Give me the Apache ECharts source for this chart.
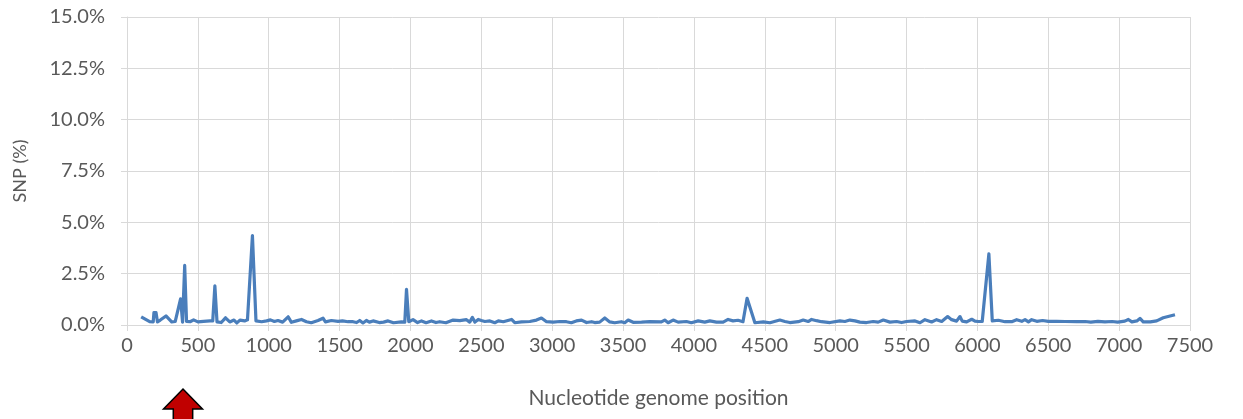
<!DOCTYPE html>
<html>
<head>
<meta charset="utf-8">
<title>SNP frequency along the genome</title>
<script src="https://cdn.jsdelivr.net/npm/echarts@6/dist/echarts.min.js"></script>
<style>
  html, body { margin: 0; padding: 0; background: #ffffff; }
  #chart { width: 1243px; height: 419px; }
</style>
</head>
<body>
<div id="chart"></div>
<script>
// Nucleotide positions along the genome
const positions = [
  100, 160, 185, 190, 205, 215, 235, 275, 315, 340,
  378, 392, 407, 420, 445, 470, 500, 540, 585, 605,
  620, 635, 665, 695, 725, 755, 775, 797, 830, 850,
  885, 910, 950, 985, 1012, 1040, 1065, 1098, 1137, 1160,
  1195, 1231, 1266, 1300, 1348, 1383, 1400, 1407, 1442, 1489,
  1520, 1560, 1595, 1620, 1642, 1665, 1689, 1710, 1736, 1780,
  1810, 1842, 1880, 1936, 1960, 1972, 1988, 2018, 2050, 2078,
  2110, 2148, 2180, 2206, 2250, 2301, 2348, 2395, 2418, 2437,
  2455, 2478, 2500, 2525, 2560, 2595, 2620, 2655, 2713, 2736,
  2783, 2842, 2889, 2924, 2960, 3007, 3054, 3100, 3135, 3170,
  3207, 3242, 3278, 3300, 3335, 3371, 3406, 3441, 3488, 3512,
  3536, 3571, 3630, 3688, 3770, 3794, 3818, 3853, 3888, 3947,
  3982, 4030, 4076, 4112, 4159, 4206, 4241, 4276, 4311, 4346,
  4375, 4430, 4490, 4536, 4606, 4642, 4677, 4736, 4771, 4806,
  4830, 4865, 4900, 4960, 5030, 5065, 5100, 5136, 5171, 5218,
  5265, 5300, 5336, 5383, 5430, 5465, 5500, 5560, 5595, 5630,
  5677, 5712, 5748, 5790, 5818, 5853, 5877, 5893, 5924, 5960,
  5983, 6007, 6034, 6081, 6105, 6148, 6195, 6242, 6277, 6313,
  6336, 6360, 6383, 6419, 6460, 6500, 6560, 6620, 6700, 6760,
  6800, 6850, 6900, 6950, 6990, 7040, 7065, 7090, 7125, 7147,
  7170, 7220, 7265, 7311, 7394
];

// SNP frequency (%) at each position
const snpPercent = [
  0.40, 0.16, 0.15, 0.60, 0.60, 0.15, 0.24, 0.44, 0.15, 0.17,
  1.27, 0.14, 2.90, 0.17, 0.16, 0.25, 0.15, 0.18, 0.20, 0.20,
  1.91, 0.15, 0.12, 0.35, 0.15, 0.24, 0.10, 0.24, 0.20, 0.25,
  4.35, 0.20, 0.16, 0.20, 0.25, 0.17, 0.22, 0.14, 0.40, 0.13,
  0.20, 0.27, 0.16, 0.11, 0.22, 0.33, 0.15, 0.12, 0.22, 0.18,
  0.20, 0.16, 0.16, 0.12, 0.22, 0.10, 0.22, 0.14, 0.20, 0.12,
  0.14, 0.20, 0.11, 0.15, 0.14, 1.74, 0.16, 0.26, 0.12, 0.20,
  0.11, 0.20, 0.12, 0.16, 0.11, 0.24, 0.21, 0.26, 0.14, 0.37,
  0.14, 0.27, 0.22, 0.17, 0.20, 0.11, 0.20, 0.16, 0.27, 0.11,
  0.15, 0.17, 0.24, 0.34, 0.16, 0.14, 0.17, 0.16, 0.11, 0.20,
  0.24, 0.12, 0.16, 0.12, 0.14, 0.34, 0.15, 0.11, 0.16, 0.11,
  0.24, 0.13, 0.14, 0.16, 0.15, 0.24, 0.11, 0.24, 0.14, 0.17,
  0.11, 0.20, 0.14, 0.20, 0.14, 0.14, 0.27, 0.20, 0.23, 0.16,
  1.30, 0.11, 0.15, 0.11, 0.24, 0.17, 0.12, 0.16, 0.24, 0.17,
  0.27, 0.21, 0.16, 0.12, 0.20, 0.17, 0.24, 0.20, 0.14, 0.12,
  0.17, 0.14, 0.24, 0.14, 0.17, 0.12, 0.17, 0.20, 0.11, 0.26,
  0.15, 0.26, 0.17, 0.41, 0.26, 0.19, 0.41, 0.19, 0.15, 0.28,
  0.19, 0.17, 0.17, 3.46, 0.20, 0.23, 0.16, 0.16, 0.26, 0.18,
  0.26, 0.15, 0.26, 0.18, 0.22, 0.18, 0.18, 0.17, 0.16, 0.17,
  0.14, 0.18, 0.15, 0.17, 0.14, 0.19, 0.27, 0.15, 0.20, 0.32,
  0.15, 0.15, 0.20, 0.35, 0.50
];

// Axis ranges and titles
const xTicks = { min: 0, max: 7500, step: 500 };
const yTicks = { min: 0, max: 15, step: 2.5 };
const xTitle = 'Nucleotide genome position';
const yTitle = 'SNP (%)';
const markedPosition = 395;

const textColor = '#595959';
const gridColor = '#d9d9d9';
const fontFamily = 'Lato, "Open Sans", sans-serif';

const chart = echarts.init(document.getElementById('chart'), null, { renderer: 'canvas' });

const seriesData = positions.map((p, i) => [p, snpPercent[i]]);

chart.setOption({
  animation: false,
  backgroundColor: '#ffffff',
  grid: { left: 127, right: 53, top: 17, bottom: 94, containLabel: false },
  xAxis: {
    type: 'value',
    min: xTicks.min,
    max: xTicks.max,
    interval: xTicks.step,
    name: xTitle,
    nameLocation: 'middle',
    nameGap: 63,
    nameTextStyle: { color: textColor, fontSize: 21, fontFamily: fontFamily },
    axisLine: { show: true, lineStyle: { color: gridColor, width: 1 } },
    axisTick: { show: true, length: 6, lineStyle: { color: gridColor } },
    axisLabel: {
      color: textColor, fontSize: 20, fontFamily: fontFamily, margin: 11,
      formatter: v => String(v)
    },
    splitLine: { show: true, lineStyle: { color: gridColor, width: 1 } }
  },
  yAxis: {
    type: 'value',
    min: yTicks.min,
    max: yTicks.max,
    interval: yTicks.step,
    name: yTitle,
    nameLocation: 'middle',
    nameGap: 98,
    nameRotate: 90,
    nameTextStyle: { color: textColor, fontSize: 18, fontFamily: fontFamily },
    axisLine: { show: true, lineStyle: { color: gridColor, width: 1 } },
    axisTick: { show: true, length: 6, lineStyle: { color: gridColor } },
    axisLabel: {
      color: textColor, fontSize: 20, fontFamily: fontFamily, margin: 22,
      formatter: v => v.toFixed(1) + '%'
    },
    splitLine: { show: true, lineStyle: { color: gridColor, width: 1 } }
  },
  series: [{
    type: 'line',
    data: seriesData,
    showSymbol: false,
    symbol: 'none',
    smooth: false,
    lineStyle: { color: '#4a7ebb', width: 3.2, join: 'round' },
    z: 3
  }]
});

// Red upward arrow under the axis marking a position of interest
const ax = chart.convertToPixel({ xAxisIndex: 0 }, markedPosition);
const tipY = 389;
chart.setOption({
  graphic: [{
    type: 'polygon',
    shape: {
      points: [
        [ax, tipY],
        [ax + 19.5, tipY + 20],
        [ax + 9.7, tipY + 20],
        [ax + 9.7, 425],
        [ax - 9.7, 425],
        [ax - 9.7, tipY + 20],
        [ax - 19.5, tipY + 20]
      ]
    },
    style: { fill: '#c00000', stroke: '#000000', lineWidth: 1.5 },
    z: 10
  }]
});
</script>
</body>
</html>
